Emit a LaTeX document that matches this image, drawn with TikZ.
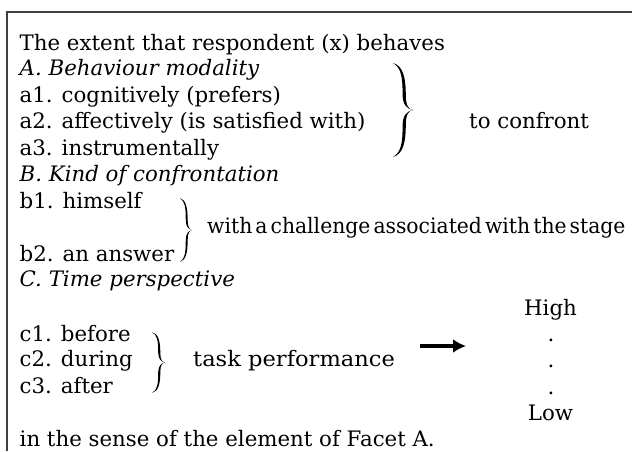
\documentclass[tikz,border=0pt]{standalone}
\usepackage{fontspec}
\setmainfont{DejaVu Serif}
\usetikzlibrary{arrows.meta}
\newcommand{\tightsp}{\spaceskip=3.2pt plus 1pt\relax}
\begin{document}
\begin{tikzpicture}[x=1pt,y=-1pt,
  txt/.style={anchor=base west,inner sep=0pt,font=\fontsize{21.3}{26}\selectfont},
  itxt/.style={txt,font=\fontsize{21.3}{26}\selectfont\itshape},
  frame/.style={draw=black!75,line width=1.3pt},
  arr/.style={-{Latex[length=13pt,width=14pt]},line width=3.2pt},
  rbrace/.pic={
    \fill (0,0.5) .. controls (0.5,0.47) and (0.64,0.35) .. (0.64,0.15)
      .. controls (0.64,0.05) and (0.8,0.0) .. (1,0)
      .. controls (0.8,0.0) and (0.64,-0.05) .. (0.64,-0.15)
      .. controls (0.64,-0.35) and (0.5,-0.47) .. (0,-0.5)
      .. controls (0.4,-0.45) and (0.48,-0.36) .. (0.48,-0.16)
      .. controls (0.48,-0.06) and (0.7,-0.01) .. (1,0)
      .. controls (0.7,0.01) and (0.48,0.06) .. (0.48,0.16)
      .. controls (0.48,0.36) and (0.4,0.45) .. (0,0.5) -- cycle;
  }]
\useasboundingbox (0,0) rectangle (632,451);
% frame
\coordinate (ftl) at (7,12);
\coordinate (ftr) at (632,12);
\coordinate (fbl) at (7,451);
\draw[frame] (ftr) -- (ftl) -- (fbl);
% left column
\node[txt]  (t0) at (19.5,50)  {The extent that respondent (x) behaves};
\node[itxt] (la) at (19.5,75.5)  {A. Behaviour modality};
\node[txt]  (a1) at (19.5,102) {a1. cognitively (prefers)};
\node[txt]  (a2) at (19.5,128.5) {a2. affectively (is satisfied with)};
\node[txt]  (a3) at (19.5,155) {a3. instrumentally};
\node[itxt] (lb) at (19.5,181.5) {B. Kind of confrontation};
\node[txt]  (b1) at (19.5,208) {b1. himself};
\node[txt]  (b2) at (19.5,261.5) {b2. an answer};
\node[itxt] (lc) at (19.5,286.5) {C. Time perspective};
\node[txt]  (c1) at (19.5,341.5) {c1. before};
\node[txt]  (c2) at (19.5,366.5) {c2. during};
\node[txt]  (c3) at (19.5,393) {c3. after};
\node[txt]  (fin) at (19.5,446.5) {in the sense of the element of Facet A.};
% braces
\pic[xscale=20,yscale=94] (bra) at (393,110) {rbrace};
\pic[xscale=12,yscale=64] (brb) at (180,230) {rbrace};
\pic[xscale=13,yscale=61] (brc) at (152,362.5) {rbrace};
% right texts
\node[txt] (conf) at (469,128.5) {to confront};
\node[txt,xscale=0.955] (chal) at (207,233) {\tightsp with a challenge associated with the stage};
\node[txt,xscale=1.06] (task) at (193,366.5) {task performance};
\node[txt,anchor=base] (high) at (550.5,315) {High};
\node[txt,anchor=base] (d1) at (551,341) {.};
\node[txt,anchor=base] (d2) at (551,367) {.};
\node[txt,anchor=base] (d3) at (551,394) {.};
\node[txt,anchor=base] (low) at (550.5,420) {Low};
% arrow
\coordinate (as) at (420,346);
\coordinate (ae) at (466,346);
\draw[arr] (as) -- (ae);
\end{tikzpicture}
\end{document}
